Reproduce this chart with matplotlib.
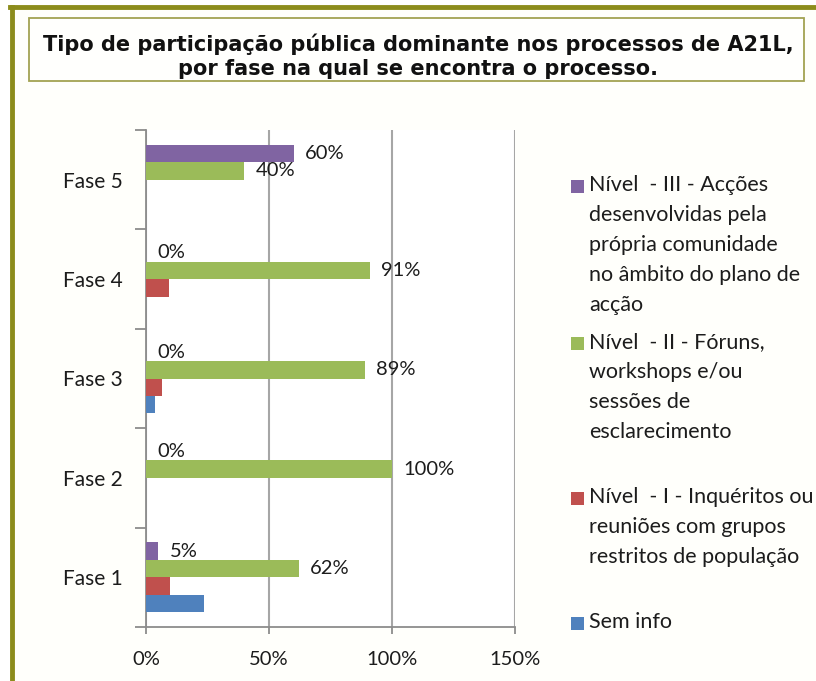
import matplotlib.pyplot as plt
import numpy as np
from matplotlib.patches import Rectangle
from matplotlib.lines import Line2D

phases = ["Fase 1", "Fase 2", "Fase 3", "Fase 4", "Fase 5"]
sem_info = [0.235, 0.0, 0.036, 0.0, 0.0]
nivel_1 = [0.097, 0.0, 0.065, 0.092, 0.0]
nivel_2 = [0.62, 1.00, 0.89, 0.91, 0.40]
nivel_3 = [0.05, 0.0, 0.0, 0.0, 0.60]

legend_labels = [
    "Nível  - III - Acções\ndesenvolvidas pela\nprópria comunidade\nno âmbito do plano de\nacção",
    "Nível  - II - Fóruns,\nworkshops e/ou\nsessões de\nesclarecimento",
    "Nível  - I - Inquéritos ou\nreuniões com grupos\nrestritos de população",
    "Sem info",
]
x_ticks = [0, 0.5, 1.0, 1.5]
x_tick_labels = ["0%", "50%", "100%", "150%"]

title = ("Tipo de participação pública dominante nos processos de A21L,\n"
         "por fase na qual se encontra o processo.")

blue = "#4F81BD"
red = "#C0504D"
green = "#9BBB59"
purple = "#8064A2"
olive = "#8c8c1c"
font = "Lato"
txt = "#1c1c1c"

W, H = 816, 681
fig = plt.figure(figsize=(W / 100, H / 100), dpi=100)
fig.patch.set_facecolor("white")

# outer frame (left + top olive lines)
fig.add_artist(Rectangle((12 / W, 0), (W - 12) / W, 1 - 7 / H, transform=fig.transFigure,
                         facecolor="#fffffb", edgecolor="none", zorder=-5))
fig.add_artist(Line2D([12 / W, 12 / W], [0, 1 - 7 / H], transform=fig.transFigure,
                      color=olive, lw=3.5))
fig.add_artist(Line2D([10 / W, 1], [1 - 7 / H, 1 - 7 / H], transform=fig.transFigure,
                      color=olive, lw=3.5))

# title box
fig.add_artist(Rectangle((29 / W, 1 - 81 / H), (804 - 29) / W, (81 - 18) / H,
                         transform=fig.transFigure, facecolor="#fffffd",
                         edgecolor="#a3a352", lw=1.3))
fig.text(418 / W, 1 - 56 / H, title, ha="center", va="center", fontsize=15,
         fontweight="bold", family="DejaVu Sans", color="#111111", linespacing=1.28)

ax = fig.add_axes([146 / W, 1 - 627 / H, (515 - 146) / W, (627 - 130) / H])
ax.set_facecolor("white")

y = np.arange(len(phases))
h = 0.176
series = [(sem_info, blue, -1.5), (nivel_1, red, -0.5), (nivel_2, green, 0.5), (nivel_3, purple, 1.5)]
bars = {}
for vals, col, off in series:
    bars[col] = ax.barh(y + off * h, vals, height=h, color=col, zorder=3)

for col in (green, purple):
    labels = ["{:.0f}%".format(v * 100) for v in bars[col].datavalues]
    ax.bar_label(bars[col], labels=labels, padding=8, fontsize=14.5, family=font,
                 color=txt, zorder=5)

ax.set_xlim(0, 1.5)
ax.set_ylim(-0.5, len(phases) - 0.5)
ax.set_xticks(x_ticks)
ax.set_xticklabels(x_tick_labels, fontsize=14.5, family=font, color=txt)
ax.set_yticks(y)
ax.set_yticklabels(phases, fontsize=15, family=font, color=txt)
ax.set_yticks(np.arange(len(phases) + 1) - 0.5, minor=True)
ax.tick_params(axis="y", which="major", length=0, pad=17)
ax.tick_params(axis="y", which="minor", length=8, color="#8c8c8c", width=1.3)
ax.tick_params(axis="x", length=5, color="#8c8c8c", width=1.3, pad=12)

ax.grid(axis="x", color="#a6a6a6", lw=1.5, zorder=0)
for s in ("top", "right"):
    ax.spines[s].set_visible(False)
for s in ("left", "bottom"):
    ax.spines[s].set_color("#8c8c8c")
    ax.spines[s].set_linewidth(1.3)

# legend drawn by hand to keep Excel's uneven spacing
leg_colors = [purple, green, red, blue]
leg_tops = [187, 344, 499, 624]
for lab, col, top in zip(legend_labels, leg_colors, leg_tops):
    fig.add_artist(Rectangle((571 / W, 1 - (top + 6) / H), 13 / W, 13 / H,
                             transform=fig.transFigure, facecolor=col, edgecolor="none"))
    fig.text(589 / W, 1 - (top - 12) / H, lab, ha="left", va="top", fontsize=15.5,
             family=font, color=txt, linespacing=1.62)

fig.savefig("out.png", dpi=100)
